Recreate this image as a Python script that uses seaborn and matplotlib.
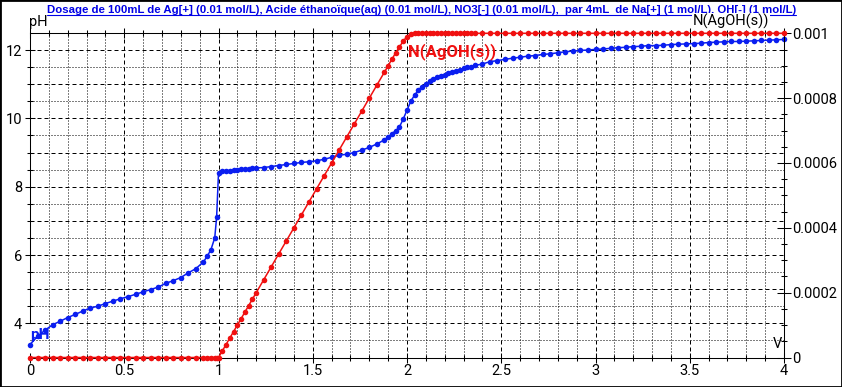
import matplotlib
matplotlib.use("Agg")
import matplotlib.pyplot as plt
from matplotlib.lines import Line2D
from matplotlib.patches import Rectangle
import seaborn as sns
import pandas as pd
import numpy as np

sns.set_theme(style="white")
plt.rcParams['font.family'] = ['Roboto', 'DejaVu Sans']
plt.rcParams['text.color'] = 'black'
plt.rcParams['axes.edgecolor'] = 'black'
plt.rcParams['xtick.color'] = 'black'
plt.rcParams['ytick.color'] = 'black'
plt.rcParams['axes.linewidth'] = 0.75

# ---------------- data ----------------
title = ("Dosage de 100mL de Ag[+] (0.01 mol/L), Acide éthanoïque(aq) (0.01 mol/L), "
         "NO3[-] (0.01 mol/L),  par 4mL  de Na[+] (1 mol/L), OH[-] (1 mol/L)")
left_label = "pH"
right_label = "N(AgOH(s))"
x_label = "V"
curve_label_ph = "pH"
curve_label_n = "N(AgOH(s))"

volume = [
    0.00, 0.04, 0.08, 0.12, 0.16, 0.20, 0.24, 0.28, 0.32, 0.36, 0.40, 0.44,
    0.48, 0.52, 0.56, 0.60, 0.64, 0.68, 0.72, 0.76, 0.80, 0.84, 0.88, 0.92,
    0.94, 0.96, 0.98, 0.99, 1.00,
    1.02, 1.04, 1.06, 1.08, 1.10, 1.12, 1.14, 1.16, 1.18, 1.20,
    1.24, 1.28, 1.32, 1.36, 1.40, 1.44, 1.48, 1.52, 1.56, 1.60, 1.64, 1.68,
    1.72, 1.76, 1.80, 1.84, 1.88,
    1.90, 1.92, 1.94, 1.96, 1.98, 2.00, 2.02, 2.04, 2.06, 2.08, 2.10, 2.12,
    2.14, 2.16, 2.18, 2.20, 2.22, 2.24, 2.26, 2.28, 2.30, 2.32, 2.34, 2.36,
    2.40, 2.44, 2.48, 2.52, 2.56, 2.60, 2.64, 2.68, 2.72, 2.76, 2.80, 2.84,
    2.88, 2.92, 2.96, 3.00, 3.04, 3.08, 3.12, 3.16, 3.20, 3.24, 3.28, 3.32,
    3.36, 3.40, 3.44, 3.48, 3.52, 3.56, 3.60, 3.64, 3.68, 3.72, 3.76, 3.80,
    3.84, 3.88, 3.92, 3.96, 4.00,
]

ph = [
    3.38, 3.62, 3.80, 3.96, 4.06, 4.17, 4.26, 4.36, 4.45, 4.50, 4.58, 4.65,
    4.72, 4.78, 4.85, 4.92, 4.99, 5.06, 5.17, 5.25, 5.34, 5.48, 5.60, 5.80,
    5.96, 6.16, 6.50, 7.10, 8.40,
    8.47, 8.47, 8.47, 8.48, 8.49, 8.51, 8.52, 8.53, 8.54, 8.55,
    8.56, 8.59, 8.62, 8.65, 8.68, 8.71, 8.73, 8.76, 8.80, 8.86, 8.92, 8.95,
    9.00, 9.07, 9.15, 9.25, 9.37,
    9.45, 9.55, 9.64, 9.75, 9.98, 10.24, 10.50, 10.68, 10.82, 10.93, 11.01, 11.09,
    11.15, 11.20, 11.24, 11.28, 11.32, 11.36, 11.39, 11.43, 11.46, 11.49, 11.51, 11.55,
    11.59, 11.66, 11.69, 11.73, 11.76, 11.79, 11.82, 11.84, 11.87, 11.89, 11.92, 11.95,
    11.97, 11.99, 12.00, 12.02, 12.03, 12.05, 12.07, 12.08, 12.10, 12.11, 12.13, 12.13,
    12.14, 12.16, 12.17, 12.18, 12.19, 12.20, 12.22, 12.23, 12.24, 12.25, 12.25, 12.26,
    12.27, 12.28, 12.29, 12.30, 12.31,
]

n_agoh = [
    0, 0, 0, 0, 0, 0, 0, 0, 0, 0, 0, 0,
    0, 0, 0, 0, 0, 0, 0, 0, 0, 0, 0, 0,
    0, 0, 0, 0, 0,
    0.00002, 0.00004, 0.00006, 0.00008, 0.00010, 0.00012, 0.00014, 0.00016, 0.00018, 0.00020,
    0.00024, 0.00028, 0.00032, 0.00036, 0.00040, 0.00044, 0.00048, 0.00052, 0.00056, 0.00060,
    0.00064, 0.00068, 0.00072, 0.00076, 0.00080, 0.00084, 0.00088,
    0.000900, 0.000920, 0.000940, 0.000958, 0.000976, 0.000990, 0.000997, 0.001, 0.001, 0.001, 0.001, 0.001,
    0.001, 0.001, 0.001, 0.001, 0.001, 0.001, 0.001, 0.001, 0.001, 0.001, 0.001, 0.001,
    0.001, 0.001, 0.001, 0.001, 0.001, 0.001, 0.001, 0.001, 0.001, 0.001, 0.001, 0.001,
    0.001, 0.001, 0.001, 0.001, 0.001, 0.001, 0.001, 0.001, 0.001, 0.001, 0.001, 0.001,
    0.001, 0.001, 0.001, 0.001, 0.001, 0.001, 0.001, 0.001, 0.001, 0.001, 0.001, 0.001,
    0.001, 0.001, 0.001, 0.001, 0.001,
]

x_major = [0, 0.5, 1, 1.5, 2, 2.5, 3, 3.5, 4]
x_major_labels = ["0", "0.5", "1", "1.5", "2", "2.5", "3", "3.5", "4"]
ph_major = [4, 6, 8, 10, 12]
ph_major_labels = ["4", "6", "8", "10", "12"]
n_major = [0, 0.0002, 0.0004, 0.0006, 0.0008, 0.001]
n_major_labels = ["0", "0.0002", "0.0004", "0.0006", "0.0008", "0.001"]

df = pd.DataFrame({"V": volume, "pH": ph, "N": n_agoh})

BLUE = "#0a1ef0"
RED = "#f01010"
TITLE_BLUE = "#0000e6"

# ---------------- figure ----------------
W, H = 842, 387
fig = plt.figure(figsize=(W / 100, H / 100), dpi=100)
fig.patch.set_facecolor("white")
L, R, T, B = 30, 784, 33.3, 357.5
ax = fig.add_axes([L / W, (H - B) / H, (R - L) / W, (B - T) / H])
ax.set_facecolor("white")
ax.set_xlim(0, 4)
ax.set_ylim(3.0, 12.49)
ax2 = ax.twinx()
ax2.set_ylim(0, 0.001)

# grid
px = 0.72
for i in range(1, 40):
    xv = i / 10
    ls = (0, (4, 3)) if i % 5 == 0 else (0, (1, 2))
    ax.axvline(xv, color="black", lw=1.0 * px, ls=ls, zorder=0.5)
for j in range(7, 25):
    yv = j / 2
    ls = (0, (4, 3)) if j % 2 == 0 else (0, (1, 2))
    ax.axhline(yv, color="black", lw=1.0 * px, ls=ls, zorder=0.5)

# curves
sns.lineplot(data=df, x="V", y="pH", ax=ax, color=BLUE, marker="o", markersize=4,
             markeredgewidth=0, linewidth=1.1, sort=False, estimator=None,
             legend=False, zorder=3)
sns.lineplot(data=df, x="V", y="N", ax=ax2, color=RED, marker="o", markersize=4,
             markeredgewidth=0, linewidth=1.1, sort=False, estimator=None,
             legend=False, zorder=3)
for ln in ax.lines + ax2.lines:
    if ln.get_marker() == "o":
        ln.set_clip_on(False)

ax.set_xlabel("")
ax.set_ylabel("")
ax2.set_ylabel("")

# spines
ax.spines["right"].set_visible(False)
ax.spines["left"].set_bounds(4, 12.49)
for s in ["left", "top", "bottom"]:
    ax2.spines[s].set_visible(False)
ax2.spines["right"].set_visible(True)

# ticks
ax.set_xticks(x_major)
ax.set_xticklabels(x_major_labels)
ax.set_xticks([i / 10 for i in range(41) if i % 5 != 0], minor=True)
ax.tick_params(axis="x", which="both", direction="inout", bottom=True, top=True,
               labelbottom=True, labeltop=False, width=0.75)
ax.tick_params(axis="x", which="major", length=7.2, pad=1, labelsize=10.5)
ax.tick_params(axis="x", which="minor", length=4.3)

ax.set_yticks(ph_major)
ax.set_yticklabels(ph_major_labels)
ax.set_yticks([j / 2 for j in range(9, 24) if j % 4 != 0], minor=True)
ax.tick_params(axis="y", which="both", direction="inout", left=True, right=False,
               width=0.75)
ax.tick_params(axis="y", which="major", length=7.2, pad=2, labelsize=10.5)
ax.tick_params(axis="y", which="minor", length=4.3)

ax2.set_yticks(n_major)
ax2.set_yticklabels(n_major_labels)
ax2.set_yticks([k * 0.00005 for k in range(21) if k % 4 != 0], minor=True)
ax2.tick_params(axis="y", which="both", direction="inout", right=True, left=False,
                width=0.75)
ax2.tick_params(axis="y", which="major", length=10, pad=1, labelsize=10.5)
ax2.tick_params(axis="y", which="minor", length=4.3)

# axis labels
fig.text(29 / W, 1 - 26 / H, left_label, ha="left", va="baseline", fontsize=10.5)
fig.text(782 / W, 1 - 348 / H, x_label, ha="right", va="baseline", fontsize=10.5)

# curve labels
ax.text(0.003, 3.54, curve_label_ph, color=BLUE, fontsize=11, fontweight="bold",
        ha="left", va="baseline", zorder=6)
ax.text(2.004, 11.83, curve_label_n, color=RED, fontsize=12, fontweight="bold",
        ha="left", va="baseline", zorder=6)

# title (bold, underlined)
t = fig.text(421.5 / W, 1 - 12.7 / H, title, ha="center", va="baseline",
             fontsize=8, fontweight="bold", color=TITLE_BLUE,
             family=["Liberation Sans", "DejaVu Sans"])
fig.canvas.draw()
bb = t.get_window_extent()
t.set_fontsize(8 * 750 / bb.width)
fig.canvas.draw()
bb = t.get_window_extent()
fig.add_artist(Line2D([bb.x0 / W, bb.x1 / W], [1 - 15 / H, 1 - 15 / H],
                      transform=fig.transFigure, color=TITLE_BLUE, lw=0.8))

rl = fig.text(769 / W, 1 - 26 / H, right_label, ha="right", va="baseline",
              fontsize=10.5, zorder=10,
              bbox=dict(facecolor="white", edgecolor="none", pad=0.5))

# outer frame
fig.add_artist(Rectangle((0, 0), 1, 1, transform=fig.transFigure, fill=False,
                         edgecolor="black", lw=2))

fig.savefig("out.png", dpi=100)
